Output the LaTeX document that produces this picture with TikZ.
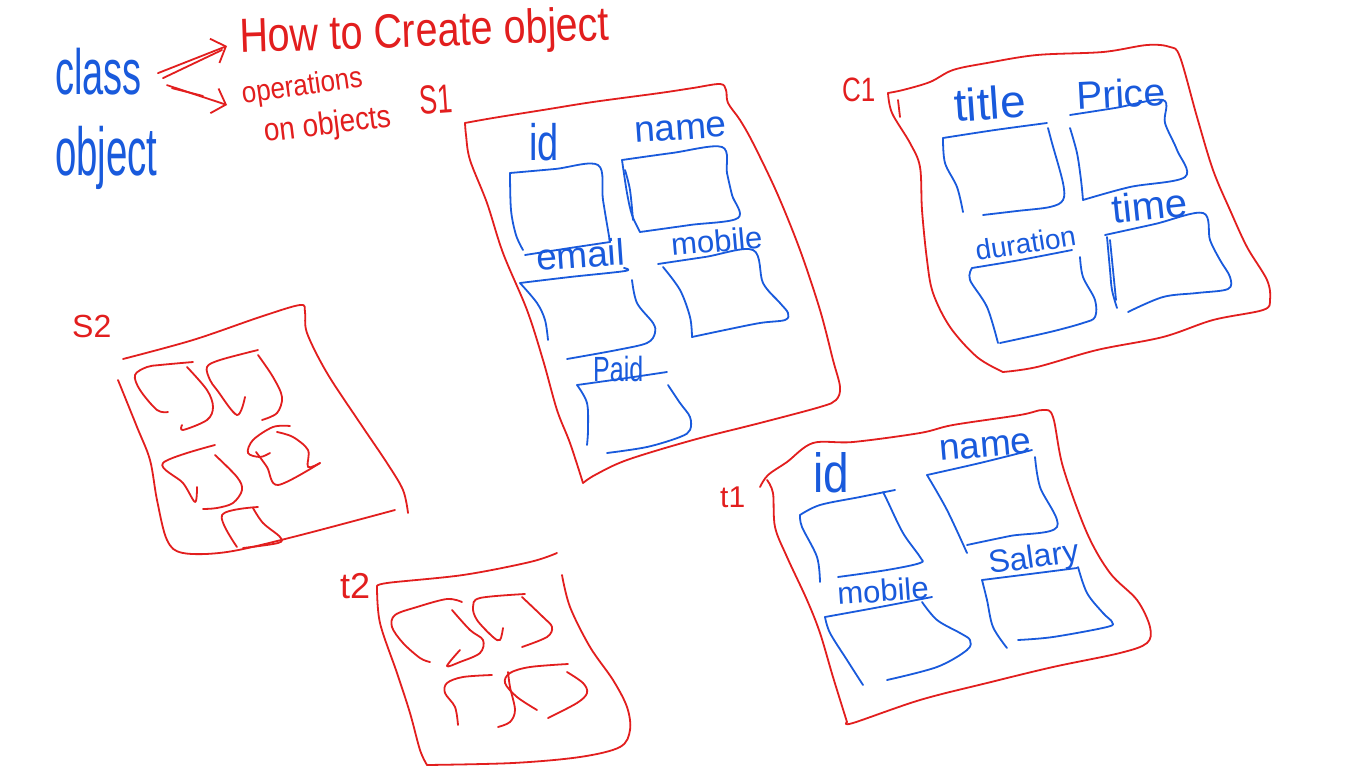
\documentclass[tikz,border=0pt]{standalone}
\usepackage{fontspec}
\setmainfont{Liberation Sans}
\usetikzlibrary{arrows.meta}
\definecolor{penred}{RGB}{226,30,30}
\definecolor{penblue}{RGB}{25,90,220}
\newcommand{\fsz}[1]{\fontsize{#1}{#1}\selectfont}
\newcommand{\hw}[3]{\scalebox{#1}[#2]{#3}}
\newcommand{\hwline}[2]{\draw[#1] plot[smooth, tension=0.55] coordinates {#2};}
\begin{document}
\begin{tikzpicture}[x=1pt,y=-1pt,
 rl/.style={draw=penred,line width=1.8pt,line cap=round,line join=round},
 bl/.style={draw=penblue,line width=1.8pt,line cap=round,line join=round},
 rt/.style={text=penred,inner sep=0pt,anchor=base west},
 bt/.style={text=penblue,inner sep=0pt,anchor=base west},
 arr/.style={rl,-{Straight Barb[length=12pt,width=26pt]}}]
\fill[white] (0,0) rectangle (1366,768);
\useasboundingbox (0,0) rectangle (1366,768);

% ---------- top-left notes ----------
\node[bt] (class) at (55,95) {\fsz{40}\hw{0.95}{1.6}{class}};
\node[bt] (object) at (55,175) {\fsz{40}\hw{0.96}{1.7}{object}};
\node[rt,rotate=2] (how) at (240,53) {\fsz{40}\hw{0.99}{1.2}{How to Create object}};
\node[rt,rotate=8] (ops) at (243,104) {\fsz{26}\hw{1}{1.15}{operations}};
\node[rt,rotate=7] (onobj) at (265,142) {\fsz{28}\hw{1}{1.15}{on objects}};
\node[rt,rotate=4] (s1lab) at (420,115) {\fsz{27}\hw{1}{1.5}{S1}};

\draw[arr] ([shift={(16,1)}]class.east) -- ([shift={(-13,-7)}]how.base west);
\draw[rl] ([shift={(21,6)}]class.east) -- ([shift={(-18,-3)}]how.base west);
\draw[arr] ([shift={(25,13)}]class.east) -- ([shift={(-16,1)}]ops.base west);
\draw[rl] ([shift={(30,16)}]class.east) -- ([shift={(-40,-8)}]ops.base west);

% ---------- S1 ----------
\hwline{rl}{(583,483) (570,443) (557,410) (543,360) (527,310) (503,253) (487,203) (470,160) (466,135) (465,123)}
\hwline{rl}{(465,123) (493,118) (543,110) (593,102) (660,93) (693,88) (720,84) (726,90) (728,103) (740,120) (753,143) (777,193) (800,250) (820,310) (833,360) (840,387) (836,400) (820,407) (760,423) (693,440) (627,460) (595,475) (583,483)}

\node[bt] (sid) at (529,160) {\fsz{38}\hw{1}{1.35}{id}};
\node[bt,rotate=4] (sname) at (635,143) {\fsz{37}name};
\node[bt,rotate=4] (semail) at (537,271) {\fsz{37}email};
\node[bt,rotate=5] (smobile) at (672,256) {\fsz{31}mobile};
\node[bt] (spaid) at (593,381) {\fsz{25}\hw{1}{1.4}{Paid}};

\hwline{bl}{(510,173) (555,169) (598,165) (603,200) (610,242)}
\hwline{bl}{(525,255) (570,248) (610,242)}
\hwline{bl}{(510,173) (511,210) (516,235) (523,250)}
\hwline{bl}{(622,160) (672,153) (722,147) (727,173) (732,195) (738,218) (690,225) (640,232)}
\hwline{bl}{(622,160) (627,193) (632,215) (640,232)}
\hwline{bl}{(625,170) (630,190) (633,220)}
\hwline{bl}{(520,283) (570,277) (625,271) (624,268)}
\hwline{bl}{(520,283) (537,303) (545,320) (548,340)}
\hwline{bl}{(632,280) (637,303) (653,323) (655,333) (647,343) (617,350) (567,359)}
\hwline{bl}{(658,264) (705,257) (753,250) (763,283) (780,303) (788,313) (785,320) (760,323) (725,330) (692,337)}
\hwline{bl}{(663,267) (680,290) (690,317) (692,337)}
\hwline{bl}{(577,385) (620,379) (667,372)}
\hwline{bl}{(577,385) (587,403) (588,430) (587,445)}
\hwline{bl}{(668,385) (680,403) (690,417) (690,430) (680,437) (647,447) (607,453)}

% ---------- C1 ----------
\node[rt] (c1lab) at (842,102) {\fsz{26}\hw{1}{1.3}{C1}};
\hwline{rl}{(888,93) (892,113) (910,143) (920,167) (922,210) (927,260) (933,293) (950,327) (977,357) (1003,372)}
\hwline{rl}{(888,93) (903,90) (930,82) (953,70) (987,63) (1037,55) (1103,52) (1147,45) (1170,47) (1180,57) (1197,117) (1213,170) (1230,210) (1247,247) (1267,280) (1270,300) (1263,310) (1213,320) (1163,337) (1097,350) (1037,367) (1003,372)}
\hwline{rl}{(898,100) (900,117)}

\node[bt,rotate=4] (ctitle) at (955,122) {\fsz{46}title};
\node[bt,rotate=3] (cprice) at (1077,110) {\fsz{39}Price};
\node[bt,rotate=9] (cdur) at (977,261) {\fsz{28}duration};
\node[bt,rotate=6] (ctime) at (1113,224) {\fsz{40}time};

\hwline{bl}{(943,138) (995,130) (1047,123)}
\hwline{bl}{(943,138) (945,163) (957,187) (963,212)}
\hwline{bl}{(1048,128) (1052,143) (1063,183) (1063,200) (1050,207) (1017,211) (983,215)}
\hwline{bl}{(1070,115) (1115,108) (1163,100) (1165,123) (1177,150) (1185,177) (1130,187) (1083,200)}
\hwline{bl}{(1070,128) (1077,153) (1081,180) (1083,200)}
\hwline{bl}{(972,268) (1020,260) (1072,250)}
\hwline{bl}{(972,268) (970,280) (987,307) (998,343)}
\hwline{bl}{(1080,257) (1083,277) (1095,300) (1095,317) (1083,323) (1050,332) (1000,343)}
\hwline{bl}{(1105,235) (1155,224) (1203,213) (1210,240) (1220,260) (1230,277) (1228,289) (1197,293) (1163,297) (1128,312)}
\hwline{bl}{(1107,237) (1110,270) (1112,290) (1117,308)}
\hwline{bl}{(1110,240) (1114,280) (1116,300)}

% ---------- S2 ----------
\node[rt] (s2lab) at (72,337) {\fsz{32}S2};
\hwline{rl}{(123,359) (193,340) (260,317) (300,305) (305,312) (307,333) (327,373) (360,423) (387,463) (403,490) (408,513)}
\hwline{rl}{(118,380) (137,427) (150,460) (157,500) (167,540) (183,553) (227,552) (293,537) (395,510)}
\hwline{rl}{(193,362) (160,365) (147,367) (135,375) (140,390) (157,410) (168,412)}
\hwline{rl}{(187,367) (207,390) (213,407) (207,420) (183,430) (182,425)}
\hwline{rl}{(258,350) (220,360) (207,367) (210,380) (217,390) (237,415) (245,397)}
\hwline{rl}{(258,355) (273,377) (282,397) (277,413) (262,420)}
\hwline{rl}{(215,445) (163,463) (183,483) (195,502) (197,487)}
\hwline{rl}{(215,455) (237,477) (242,490) (233,503) (217,508) (203,509)}
\hwline{rl}{(290,426) (273,427) (253,440) (248,453) (260,457) (270,453)}
\hwline{rl}{(277,432) (293,437) (308,450) (308,467) (320,463)}
\hwline{rl}{(256,452) (267,467) (278,485) (320,463)}
\hwline{rl}{(258,507) (222,515) (237,547)}
\hwline{rl}{(253,508) (263,523) (280,537) (278,543) (243,548)}

% ---------- t2 ----------
\node[rt] (t2lab) at (340,598) {\fsz{36}t2};
\hwline{rl}{(377,587) (387,583) (463,575) (530,562) (557,553)}
\hwline{rl}{(562,575) (570,607) (590,647) (613,680) (627,707) (630,730) (620,747) (580,757) (513,763) (427,765)}
\hwline{rl}{(377,587) (380,623) (397,673) (410,713) (420,750) (427,765)}
\hwline{rl}{(462,602) (447,599) (417,607) (395,615) (392,627) (403,643) (420,658) (430,662)}
\hwline{rl}{(452,610) (470,630) (483,640) (480,653) (460,662) (447,666) (460,650)}
\hwline{rl}{(525,594) (480,598) (473,607) (477,620) (493,637) (500,640) (503,628)}
\hwline{rl}{(522,597) (543,617) (552,627) (547,637) (522,647)}
\hwline{rl}{(492,675) (463,677) (447,683) (445,693) (455,707) (458,725)}
\hwline{rl}{(568,664) (530,667) (510,673) (505,683) (517,697) (537,710)}
\hwline{rl}{(508,672) (510,687) (515,710) (510,722) (498,727)}
\hwline{rl}{(567,672) (583,683) (587,693) (577,703) (548,718)}

% ---------- t1 ----------
\node[rt] (t1lab) at (720,507) {\fsz{30}t1};
\hwline{rl}{(760,487) (768,475) (787,462) (813,443) (853,442) (920,433) (953,425) (1020,415) (1043,410) (1053,417) (1063,467) (1087,533) (1110,573) (1137,600) (1150,627) (1147,643) (1120,653) (1053,667) (987,683) (920,700) (853,723) (847,722)}
\hwline{rl}{(767,480) (773,493) (775,527) (787,557) (807,600) (820,633) (833,677) (847,722)}

\node[bt] (tid) at (813,492) {\fsz{46}\hw{1}{1.2}{id}};
\node[bt,rotate=5] (tname) at (940,461) {\fsz{37}name};
\node[bt,rotate=4] (tmobile) at (838,605) {\fsz{31}mobile};
\node[bt,rotate=8] (tsalary) at (990,574) {\fsz{32}Salary};

\hwline{bl}{(800,515) (820,505) (860,497) (895,490)}
\hwline{bl}{(800,515) (802,527) (817,557) (820,582)}
\hwline{bl}{(883,492) (887,500) (903,533) (920,557) (920,563) (887,570) (838,577)}
\hwline{bl}{(927,475) (980,463) (1032,450)}
\hwline{bl}{(927,475) (947,510) (967,553)}
\hwline{bl}{(1035,457) (1040,487) (1057,527) (1010,536) (967,545)}
\hwline{bl}{(825,617) (880,607) (932,597)}
\hwline{bl}{(825,617) (830,633) (847,660) (863,685)}
\hwline{bl}{(922,602) (937,620) (960,633) (970,640) (967,650) (937,667) (887,680)}
\hwline{bl}{(982,580) (1030,574) (1077,568)}
\hwline{bl}{(982,580) (987,600) (993,627) (1007,648)}
\hwline{bl}{(1078,567) (1087,593) (1103,613) (1112,622) (1107,627) (1053,637) (1018,640)}
\end{tikzpicture}
\end{document}
